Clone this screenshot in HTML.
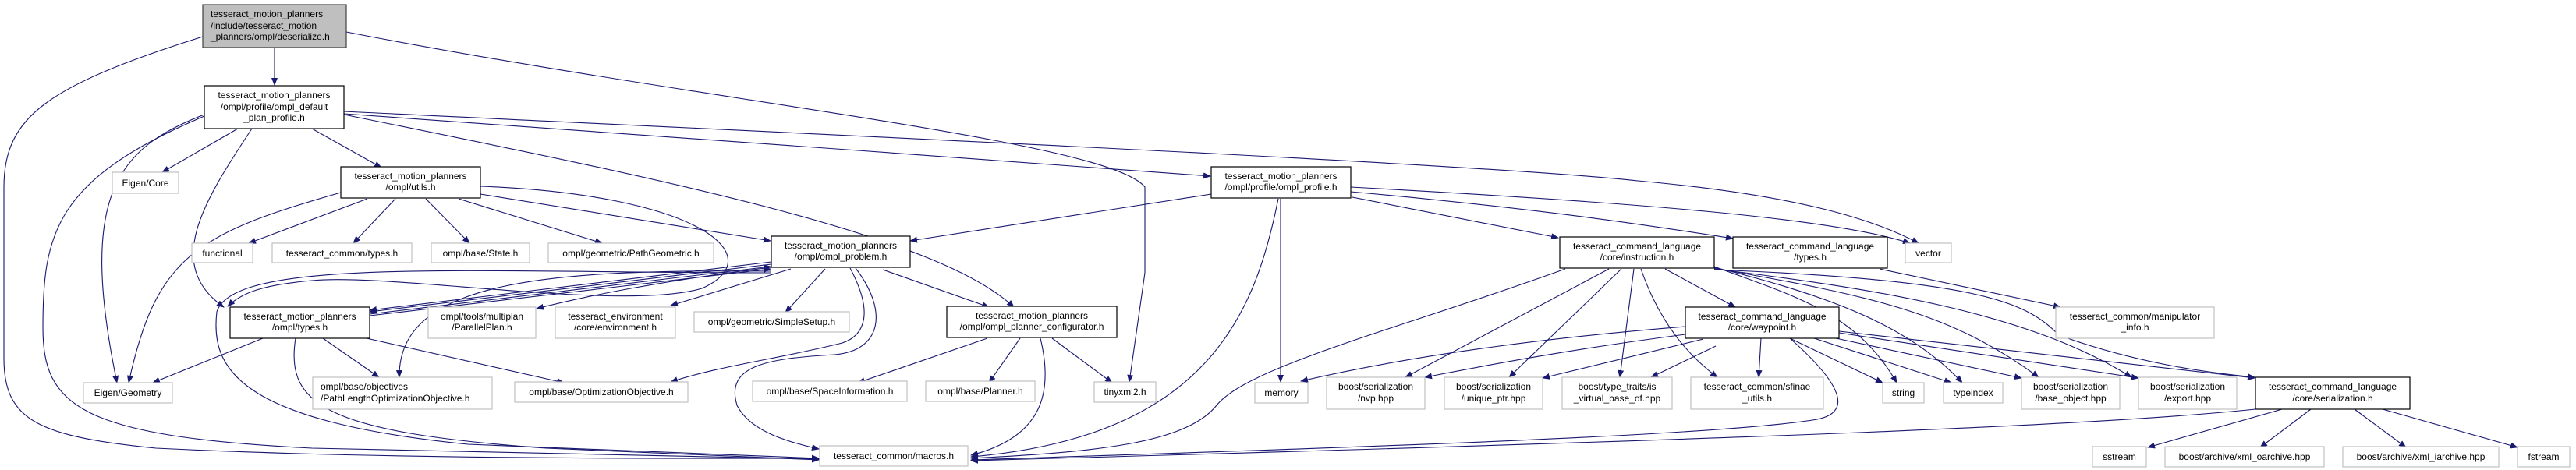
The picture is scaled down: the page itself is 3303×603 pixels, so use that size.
<!DOCTYPE html>
<html><head><meta charset="utf-8"><style>
html,body{margin:0;padding:0;background:#fff;}
svg{display:block;}
text{font-family:"Liberation Sans",sans-serif;font-size:12px;fill:#000;}
.b{fill:#fff;stroke:#000;stroke-width:1.2;}
.g{fill:#fff;stroke:#c0c0c0;stroke-width:1.2;}
.e{fill:none;stroke:#191970;stroke-width:1.1;marker-end:url(#a);}
</style></head><body>
<svg width="3303" height="603" viewBox="0 0 3303 603" xmlns="http://www.w3.org/2000/svg">
<defs><marker id="a" markerWidth="10" markerHeight="8" refX="9" refY="4" orient="auto" markerUnits="userSpaceOnUse"><path d="M0,0 L10,4 L0,8 z" fill="#191970"/></marker></defs>

<g>
<path class="e" d="M260,47 C60,110 5,150 5,240 L5,460 C5,540 50,560 200,575 C500,590 900,588 1050,588"/>
<path class="e" d="M352,61 L352,109"/>
<path class="e" d="M444,41 C900,130 1420,180 1468,240 L1468,350 L1448,490"/>
<path class="e" d="M305,165 L208,221"/>
<path class="e" d="M400,165 L489,215"/>
<path class="e" d="M323,165 C260,260 210,340 287,394"/>
<path class="e" d="M262,147 C150,190 100,250 150,491"/>
<path class="e" d="M262,149 C70,230 55,300 55,420 C55,520 100,560 400,575 L1050,589"/>
<path class="e" d="M441,146 L1100,193 L1552,226"/>
<path class="e" d="M441,143 C1000,170 1900,210 2100,232 C2300,250 2400,280 2460,312"/>
<path class="e" d="M441,147 C850,230 1200,300 1300,394"/>
<path class="e" d="M471,255 L319,312"/>
<path class="e" d="M507,255 L453,312"/>
<path class="e" d="M546,255 L602,312"/>
<path class="e" d="M588,255 L772,312"/>
<path class="e" d="M616,249 L988,309"/>
<path class="e" d="M437,247 C250,300 200,330 165,491"/>
<path class="e" d="M616,239 C900,250 990,330 900,370 C800,400 500,350 400,360 C340,365 310,375 292,393"/>
<path class="e" d="M989,336 L474,398"/>
<path class="e" d="M989,339 L474,400"/>
<path class="e" d="M474,403 L988,342"/>
<path class="e" d="M474,405 L988,345"/>
<path class="e" d="M989,348 C700,345 510,360 512,484"/>
<path class="e" d="M989,343 C850,360 750,380 688,396"/>
<path class="e" d="M1014,345 L860,392"/>
<path class="e" d="M1058,345 L1007,401"/>
<path class="e" d="M1090,344 C1120,400 1110,430 1080,440 C1000,460 920,470 860,490"/>
<path class="e" d="M1097,344 C1140,400 1130,450 1070,455 C980,460 930,470 945,520 C960,550 1000,565 1050,576"/>
<path class="e" d="M989,350 C600,350 300,330 278,400 C270,470 300,540 600,570 L1050,588"/>
<path class="e" d="M1132,346 L1268,394"/>
<path class="e" d="M337,434 L196,491"/>
<path class="e" d="M414,434 L486,484"/>
<path class="e" d="M470,434 L723,491"/>
<path class="e" d="M379,434 C365,520 420,555 700,575 L1050,590"/>
<path class="e" d="M1266,434 L1100,491"/>
<path class="e" d="M1308,434 L1268,491"/>
<path class="e" d="M1349,434 L1426,491"/>
<path class="e" d="M1334,434 C1350,500 1340,560 1245,584"/>
<path class="e" d="M1553,249 L1167,309"/>
<path class="e" d="M1642,255 L1642,490"/>
<path class="e" d="M1639,255 C1610,400 1550,560 1245,586"/>
<path class="e" d="M1734,253 L1998,305"/>
<path class="e" d="M1732,246 C2000,270 2150,295 2222,306"/>
<path class="e" d="M1732,240 C2100,260 2350,280 2449,312"/>
<path class="e" d="M2007,345 C1800,420 1600,470 1560,520 C1520,570 1400,580 1245,588"/>
<path class="e" d="M2063,345 L1802,484"/>
<path class="e" d="M2079,345 L1935,484"/>
<path class="e" d="M2095,345 L2077,484"/>
<path class="e" d="M2104,345 C2130,420 2170,460 2202,484"/>
<path class="e" d="M2135,345 L2225,394"/>
<path class="e" d="M2161,419 C1900,440 1750,470 1668,489"/>
<path class="e" d="M2161,429 C2000,450 1900,470 1827,484"/>
<path class="e" d="M2184,435 L1978,485"/>
<path class="e" d="M2200,444 L2117,484"/>
<path class="e" d="M2258,434 L2255,484"/>
<path class="e" d="M2295,434 L2414,491"/>
<path class="e" d="M2326,434 L2502,491"/>
<path class="e" d="M2354,434 L2592,485"/>
<path class="e" d="M2358,427 L2742,485"/>
<path class="e" d="M2358,425 L2891,485"/>
<path class="e" d="M2295,434 C2370,500 2370,530 2330,538 C2200,560 1700,575 1245,590"/>
<path class="e" d="M2892,525 C2700,545 2300,562 1245,591"/>
<path class="e" d="M2198,342 C2300,380 2380,400 2432,491"/>
<path class="e" d="M2198,343 C2350,380 2450,420 2516,491"/>
<path class="e" d="M2198,344 C2400,380 2500,400 2614,484"/>
<path class="e" d="M2198,345 C2400,370 2600,400 2733,484"/>
<path class="e" d="M2198,346 C2550,360 2600,390 2640,430 C2750,470 2850,480 2891,484"/>
<path class="e" d="M2410,345 L2642,394"/>
<path class="e" d="M2926,525 L2754,574"/>
<path class="e" d="M2963,525 L2898,574"/>
<path class="e" d="M3019,525 L3085,574"/>
<path class="e" d="M3055,525 L3228,574"/>
</g>

<g>
<rect x="260" y="6" width="184" height="55" fill="#bfbfbf" stroke="#404040" stroke-width="1.2"/>
<text x="270" y="22">tesseract_motion_planners</text><text x="270" y="37">/include/tesseract_motion</text><text x="270" y="51">_planners/ompl/deserialize.h</text>

<rect class="b" x="262" y="110" width="179" height="55"/>
<text x="351.5" y="126" text-anchor="middle">tesseract_motion_planners</text><text x="351.5" y="141" text-anchor="middle">/ompl/profile/ompl_default</text><text x="351.5" y="155" text-anchor="middle">_plan_profile.h</text>

<rect class="g" x="144" y="221" width="85" height="27"/><text x="186.5" y="239" text-anchor="middle">Eigen/Core</text>

<rect class="b" x="437" y="214" width="179" height="40"/>
<text x="526.5" y="230" text-anchor="middle">tesseract_motion_planners</text><text x="526.5" y="244" text-anchor="middle">/ompl/utils.h</text>

<rect class="g" x="246" y="312" width="78" height="25"/><text x="285" y="329" text-anchor="middle">functional</text>
<rect class="g" x="349" y="312" width="179" height="25"/><text x="438.5" y="329" text-anchor="middle">tesseract_common/types.h</text>
<rect class="g" x="553" y="312" width="126" height="25"/><text x="616" y="329" text-anchor="middle">ompl/base/State.h</text>
<rect class="g" x="703" y="312" width="212" height="25"/><text x="809" y="329" text-anchor="middle">ompl/geometric/PathGeometric.h</text>

<rect class="b" x="989" y="303" width="178" height="40"/>
<text x="1078" y="319" text-anchor="middle">tesseract_motion_planners</text><text x="1078" y="333" text-anchor="middle">/ompl/ompl_problem.h</text>

<rect class="b" x="295" y="394" width="179" height="40"/>
<text x="384.5" y="410" text-anchor="middle">tesseract_motion_planners</text><text x="384.5" y="424" text-anchor="middle">/ompl/types.h</text>

<rect class="g" x="549" y="394" width="138" height="40"/>
<text x="618" y="410" text-anchor="middle">ompl/tools/multiplan</text><text x="618" y="424" text-anchor="middle">/ParallelPlan.h</text>

<rect class="g" x="712" y="394" width="154" height="40"/>
<text x="789" y="410" text-anchor="middle">tesseract_environment</text><text x="789" y="424" text-anchor="middle">/core/environment.h</text>

<rect class="g" x="890" y="400" width="199" height="26"/><text x="989.5" y="417" text-anchor="middle">ompl/geometric/SimpleSetup.h</text>

<rect class="b" x="1214" y="393" width="218" height="40"/>
<text x="1323" y="409" text-anchor="middle">tesseract_motion_planners</text><text x="1323" y="423" text-anchor="middle">/ompl/ompl_planner_configurator.h</text>

<rect class="g" x="107" y="491" width="114" height="26"/><text x="164" y="508" text-anchor="middle">Eigen/Geometry</text>
<rect class="g" x="401" y="484" width="230" height="41"/>
<text x="411" y="500">ompl/base/objectives</text><text x="411" y="515">/PathLengthOptimizationObjective.h</text>
<rect class="g" x="660" y="490" width="222" height="26"/><text x="771" y="507" text-anchor="middle">ompl/base/OptimizationObjective.h</text>
<rect class="g" x="965" y="489" width="198" height="26"/><text x="1064" y="506" text-anchor="middle">ompl/base/SpaceInformation.h</text>
<rect class="g" x="1187" y="489" width="140" height="26"/><text x="1257" y="506" text-anchor="middle">ompl/base/Planner.h</text>
<rect class="g" x="1403" y="490" width="79" height="26"/><text x="1442.5" y="507" text-anchor="middle">tinyxml2.h</text>

<rect class="g" x="1051" y="572" width="190" height="26"/><text x="1146" y="589" text-anchor="middle">tesseract_common/macros.h</text>

<rect class="b" x="1553" y="214" width="179" height="40"/>
<text x="1642.5" y="230" text-anchor="middle">tesseract_motion_planners</text><text x="1642.5" y="244" text-anchor="middle">/ompl/profile/ompl_profile.h</text>

<rect class="b" x="2000" y="304" width="198" height="40"/>
<text x="2099" y="320" text-anchor="middle">tesseract_command_language</text><text x="2099" y="334" text-anchor="middle">/core/instruction.h</text>

<rect class="b" x="2222" y="304" width="198" height="40"/>
<text x="2321" y="320" text-anchor="middle">tesseract_command_language</text><text x="2321" y="334" text-anchor="middle">/types.h</text>

<rect class="g" x="2443" y="312" width="59" height="25"/><text x="2472.5" y="329" text-anchor="middle">vector</text>

<rect class="b" x="2161" y="394" width="197" height="40"/>
<text x="2259.5" y="410" text-anchor="middle">tesseract_command_language</text><text x="2259.5" y="424" text-anchor="middle">/core/waypoint.h</text>

<rect class="g" x="2636" y="394" width="203" height="40"/>
<text x="2737.5" y="410" text-anchor="middle">tesseract_common/manipulator</text><text x="2737.5" y="424" text-anchor="middle">_info.h</text>

<rect class="g" x="1609" y="491" width="68" height="26"/><text x="1643" y="508" text-anchor="middle">memory</text>
<rect class="g" x="1701" y="484" width="126" height="41"/><text x="1764" y="500" text-anchor="middle">boost/serialization</text><text x="1764" y="515" text-anchor="middle">/nvp.hpp</text>
<rect class="g" x="1852" y="484" width="126" height="41"/><text x="1915" y="500" text-anchor="middle">boost/serialization</text><text x="1915" y="515" text-anchor="middle">/unique_ptr.hpp</text>
<rect class="g" x="2003" y="484" width="141" height="41"/><text x="2073.5" y="500" text-anchor="middle">boost/type_traits/is</text><text x="2073.5" y="515" text-anchor="middle">_virtual_base_of.hpp</text>
<rect class="g" x="2168" y="484" width="170" height="41"/><text x="2253" y="500" text-anchor="middle">tesseract_common/sfinae</text><text x="2253" y="515" text-anchor="middle">_utils.h</text>
<rect class="g" x="2414" y="491" width="53" height="26"/><text x="2440.5" y="508" text-anchor="middle">string</text>
<rect class="g" x="2492" y="491" width="76" height="26"/><text x="2530" y="508" text-anchor="middle">typeindex</text>
<rect class="g" x="2592" y="484" width="126" height="41"/><text x="2655" y="500" text-anchor="middle">boost/serialization</text><text x="2655" y="515" text-anchor="middle">/base_object.hpp</text>
<rect class="g" x="2742" y="484" width="126" height="41"/><text x="2805" y="500" text-anchor="middle">boost/serialization</text><text x="2805" y="515" text-anchor="middle">/export.hpp</text>
<rect class="b" x="2892" y="484" width="198" height="41"/><text x="2991" y="500" text-anchor="middle">tesseract_command_language</text><text x="2991" y="515" text-anchor="middle">/core/serialization.h</text>

<rect class="g" x="2683" y="573" width="69" height="26"/><text x="2717.5" y="590" text-anchor="middle">sstream</text>
<rect class="g" x="2776" y="573" width="204" height="26"/><text x="2878" y="590" text-anchor="middle">boost/archive/xml_oarchive.hpp</text>
<rect class="g" x="3004" y="573" width="200" height="26"/><text x="3104" y="590" text-anchor="middle">boost/archive/xml_iarchive.hpp</text>
<rect class="g" x="3228" y="573" width="67" height="26"/><text x="3261.5" y="590" text-anchor="middle">fstream</text>
</g>
</svg>
</body></html>
